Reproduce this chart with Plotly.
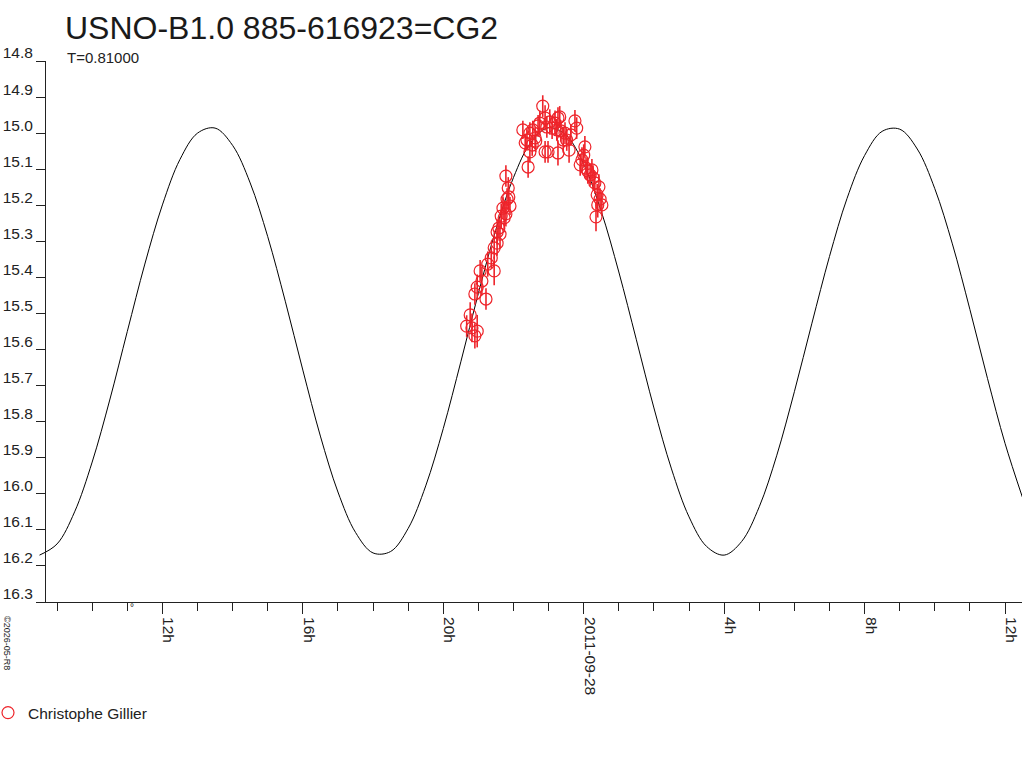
import pandas as pd
import plotly.graph_objects as go

# model light curve, every half hour from 2011-09-27 08:30
model_time = pd.date_range("2011-09-27 08:30", periods=57, freq="30min")
model_mag = [16.170, 16.139, 16.050, 15.912, 15.740, 15.550, 15.363, 15.199,
             15.073, 15.000, 14.986, 15.034, 15.138, 15.287, 15.466, 15.657,
             15.840, 15.995, 16.107, 16.164, 16.160, 16.096, 15.978, 15.819,
             15.634, 15.444, 15.267, 15.123, 15.025, 14.985, 15.006, 15.086,
             15.217, 15.385, 15.573, 15.762, 15.931, 16.064, 16.146, 16.170,
             16.132, 16.036, 15.893, 15.717, 15.527, 15.342, 15.181, 15.062,
             14.995, 14.989, 15.044, 15.154, 15.307, 15.489, 15.680, 15.860,
             16.011]

# observations (Christophe Gillier)
obs_time = ["20:40", "20:46", "20:49", "20:54", "20:58", "20:54", "20:58", "21:03",
            "21:06", "21:13", "21:16", "21:22", "21:27", "21:27", "21:32", "21:35",
            "21:37", "21:39", "21:42", "21:47", "21:51", "21:54", "21:47", "21:52",
            "21:32", "21:44", "21:49",
            "22:16", "22:23", "22:25", "22:20", "22:28", "22:33", "22:37", "22:42",
            "22:45", "22:50", "22:54", "22:57", "22:59", "23:02", "23:06", "23:11",
            "23:14", "23:16", "23:16", "23:21", "23:25", "23:28", "23:31", "23:35",
            "23:38", "23:45", "23:48", "23:54", "23:57", "22:32", "22:28", "22:38",
            "22:54", "23:19",
            "00:02", "00:04", "00:07", "00:11", "00:14", "00:16", "00:19", "00:23",
            "00:26", "00:24", "00:21", "00:28", "00:31", "00:00"]
obs_mag = [15.535, 15.504, 15.540, 15.562, 15.549, 15.446, 15.427, 15.382,
           15.410, 15.460, 15.363, 15.346, 15.382, 15.318, 15.274, 15.263,
           15.280, 15.230, 15.208, 15.224, 15.152, 15.202, 15.119, 15.177,
           15.305, 15.235, 15.183,
           14.991, 15.019, 15.094, 15.027, 15.000, 14.991, 15.013, 14.980,
           14.972, 14.925, 14.958, 14.983, 15.052, 14.969, 14.986, 14.972,
           14.991, 14.958, 15.055, 14.994, 15.019, 15.000, 15.019, 15.047,
           15.005, 14.966, 14.986, 15.088, 15.074, 15.033, 15.052, 15.022,
           15.052, 14.955,
           15.038, 15.097, 15.105, 15.116, 15.102, 15.124, 15.138, 15.171,
           15.149, 15.199, 15.232, 15.183, 15.199, 15.061]
obs_err = [0.030, 0.035, 0.040, 0.035, 0.045, 0.030, 0.035, 0.030,
           0.040, 0.030, 0.035, 0.030, 0.040, 0.030, 0.035, 0.030,
           0.040, 0.035, 0.030, 0.035, 0.030, 0.025, 0.030, 0.035,
           0.035, 0.040, 0.030,
           0.025, 0.030, 0.030, 0.025, 0.030, 0.025, 0.030, 0.030,
           0.035, 0.030, 0.035, 0.030, 0.030, 0.035, 0.030, 0.035,
           0.030, 0.030, 0.035, 0.030, 0.035, 0.030, 0.030, 0.035,
           0.030, 0.030, 0.030, 0.030, 0.035, 0.030, 0.030, 0.030,
           0.030, 0.030,
           0.030, 0.030, 0.035, 0.030, 0.030, 0.035, 0.030, 0.030,
           0.035, 0.035, 0.040, 0.030, 0.030, 0.030]
obs_date = ["2011-09-28 " + t if t.startswith("00") else "2011-09-27 " + t for t in obs_time]

tick_vals = ["2011-09-27 12:00", "2011-09-27 16:00", "2011-09-27 20:00", "2011-09-28 00:00",
             "2011-09-28 04:00", "2011-09-28 08:00", "2011-09-28 12:00"]
tick_text = ["12h", "16h", "20h", "2011-09-28", "4h", "8h", "12h"]
y_ticks = [14.8, 14.9, 15.0, 15.1, 15.2, 15.3, 15.4, 15.5, 15.6, 15.7, 15.8,
           15.9, 16.0, 16.1, 16.2, 16.3]

red = "rgb(238,36,42)"
font = "Liberation Sans, Arial, sans-serif"

fig = go.Figure()
fig.add_trace(go.Scatter(x=model_time, y=model_mag, mode="lines", line_shape="spline",
                         line=dict(color="black", width=1), showlegend=False,
                         hoverinfo="skip"))
fig.add_trace(go.Scatter(x=obs_date, y=obs_mag, mode="markers", name="Christophe Gillier",
                         marker=dict(symbol="circle-open", size=12, color=red,
                                     line=dict(width=1.2, color=red)),
                         error_y=dict(type="data", array=obs_err, color=red,
                                      thickness=1.6, width=0)))

fig.update_layout(
    width=1024, height=768,
    margin=dict(l=36, r=2, t=61, b=166, autoexpand=False),
    paper_bgcolor="white", plot_bgcolor="white",
    font=dict(family=font, size=15.5, color="#222"),
    title=dict(text="USNO-B1.0 885-616923=CG2", xref="container", yref="container",
               x=65 / 1024, xanchor="left", y=1 - 17 / 768, yanchor="top",
               font=dict(size=32, color="#1a1a1a")),
    showlegend=True,
    legend=dict(xref="paper", yref="paper", x=(-12 - 36) / 986, xanchor="left",
                y=(602 - 713) / 541, yanchor="middle", bgcolor="rgba(0,0,0,0)",
                font=dict(size=15.5), itemwidth=30),
    xaxis=dict(type="date", range=["2011-09-27 08:24", "2011-09-28 12:29"],
               showgrid=False, zeroline=False, showline=True, linecolor="#222",
               linewidth=1, ticks="outside", ticklen=11, tickcolor="#222",
               tickvals=tick_vals, ticktext=tick_text, tickangle=90,
               ticklabelshift=6,
               minor=dict(tickmode="linear", tick0="2011-09-27 00:00", dtick=3600000,
                          ticks="outside", ticklen=8, tickcolor="#222", showgrid=False)),
    yaxis=dict(range=[16.3, 14.8], anchor="free", position=9 / 986,
               showgrid=False, zeroline=False, showline=True, linecolor="#222",
               linewidth=1, ticks="outside", ticklen=9, tickcolor="#222",
               tickvals=y_ticks, ticktext=[f"{v:.1f}" for v in y_ticks],
               ticklabelshift=8),
    annotations=[
        dict(text="T=0.81000", xref="paper", yref="paper", x=(65 - 36) / 986,
             y=(602 - 58) / 541, xanchor="left", yanchor="middle", showarrow=False,
             font=dict(size=15)),
        dict(text="©2026-05-R8", xref="paper", yref="paper", x=(0 - 36) / 986,
             xanchor="left", y=(602 - 614) / 541, yanchor="top", textangle=90,
             showarrow=False, font=dict(size=9)),
        dict(text="°", xref="paper", yref="paper", x=(128 - 36) / 986,
             y=(602 - 615) / 541, showarrow=False, font=dict(size=10)),
    ],
)

# the page's default body margin would push the figure 8px off the corner
fig.write_html("out.html", config={"displayModeBar": False},
               post_script="document.body.style.margin = '0px';")
